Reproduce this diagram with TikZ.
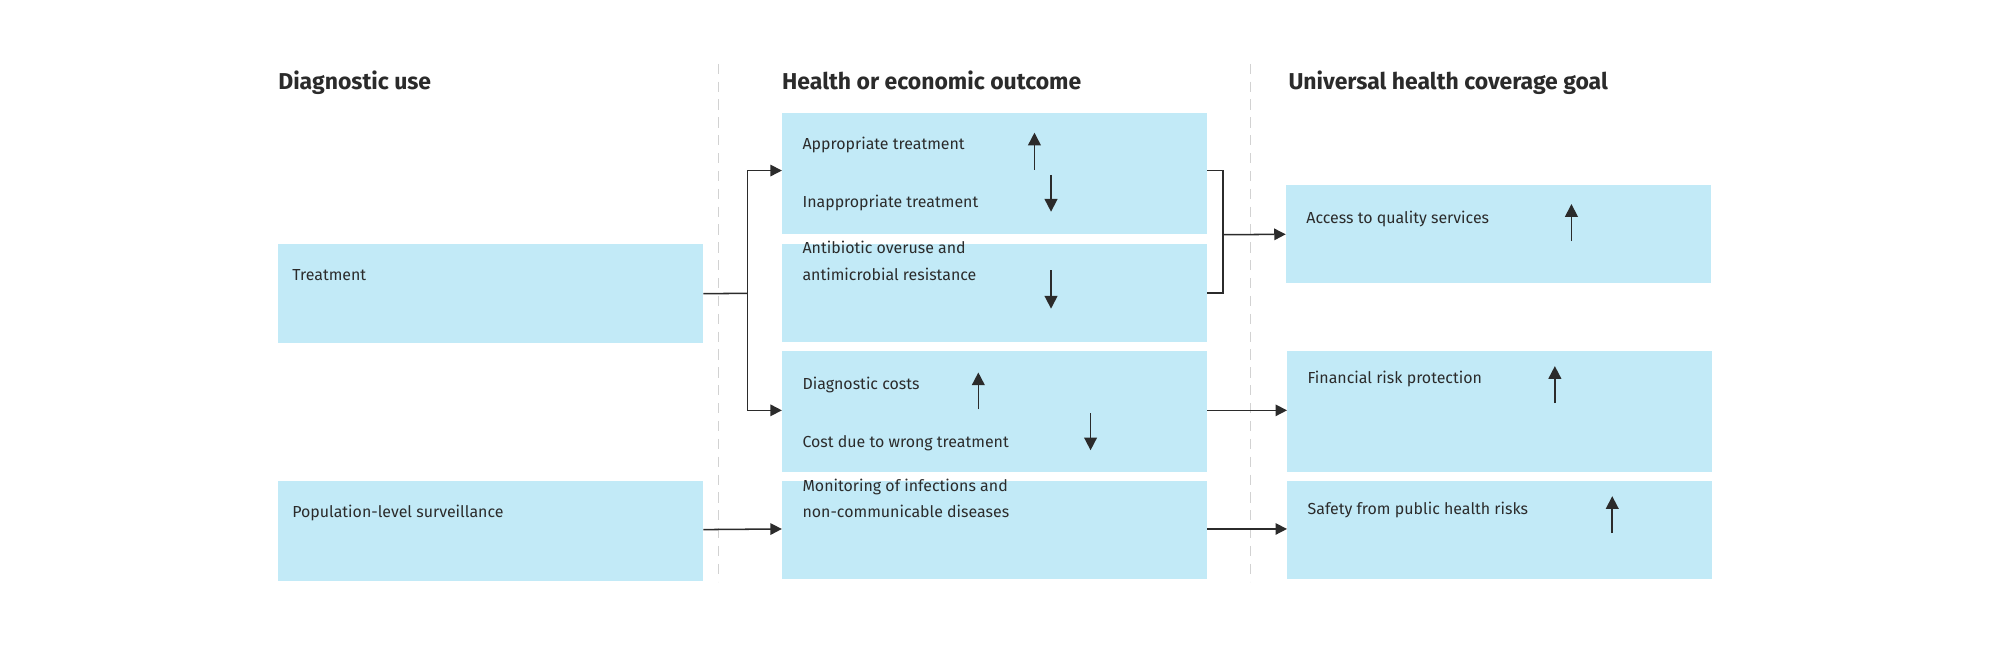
\documentclass[tikz,border=0pt]{standalone}
\usepackage{fontspec}
\setmainfont{Fira Sans}
\usetikzlibrary{arrows.meta,calc}
\definecolor{boxc}{HTML}{C2EAF7}
\definecolor{ink}{HTML}{2B2B2B}
\tikzset{
  box/.style={fill=boxc,draw=none,anchor=north west,inner sep=0pt},
  lbl/.style={anchor=base west,inner sep=0pt,text=ink,font=\fontsize{12.5}{21}\selectfont,align=left},
  hd/.style={anchor=base west,inner sep=0pt,text=ink,font=\fontsize{18}{20}\selectfont\bfseries},
  conn/.style={draw=ink,line width=1.2pt,-{Triangle[length=9pt,width=9pt]}},
  plain/.style={draw=ink,line width=1.2pt},
  updn/.style={draw=ink,line width=1.3pt,-{Triangle[length=10pt,width=10pt]}},
  sep/.style={draw=gray!35,line width=0.8pt,dash pattern=on 8pt off 6pt}
}
\begin{document}
\begin{tikzpicture}[x=1pt,y=-1pt]
\useasboundingbox (0,0) rectangle (1568,507);
\fill[white] (0,0) rectangle (1568,507);
\draw[sep] (563,50) -- (563,456);
\draw[sep] (980,50) -- (980,456);
\node[hd] (h1) at (218,70) {Diagnostic use};
\node[hd] (h2) at (613,70) {Health or economic outcome};
\node[hd] (h3) at (1010,70) {Universal health coverage goal};
% boxes
\node[box,minimum width=333pt,minimum height=78pt] (tr) at (218,191) {};
\node[box,minimum width=333pt,minimum height=78pt] (po) at (218,377) {};
\node[box,minimum width=333pt,minimum height=95pt] (m1) at (613,88) {};
\node[box,minimum width=333pt,minimum height=77pt] (m2) at (613,191) {};
\node[box,minimum width=333pt,minimum height=95pt] (m3) at (613,275) {};
\node[box,minimum width=333pt,minimum height=77pt] (m4) at (613,377) {};
\node[box,minimum width=333pt,minimum height=77pt] (r1) at (1008,145) {};
\node[box,minimum width=333pt,minimum height=95pt] (r2) at (1009,275) {};
\node[box,minimum width=333pt,minimum height=77pt] (r3) at (1009,377) {};
% labels
\node[lbl] (t1) at (229,220) {Treatment};
\node[lbl] (t2) at (229,406) {Population-level surveillance};
\node[lbl] (t3) at (629,117) {Appropriate treatment};
\node[lbl] (t4) at (629,163) {Inappropriate treatment};
\node[lbl] (t5) at (629,220) {Antibiotic overuse and\\antimicrobial resistance};
\node[lbl] (t6) at (629,305) {Diagnostic costs};
\node[lbl] (t7) at (629,351) {Cost due to wrong treatment};
\node[lbl] (t8) at (629,406) {Monitoring of infections and\\non-communicable diseases};
\node[lbl] (t9) at (1024,175) {Access to quality services};
\node[lbl] (t10) at (1025,301) {Financial risk protection};
\node[lbl] (t11) at (1025,403) {Safety from public health risks};
% small up/down arrows
\coordinate (a1) at (811,133); \draw[updn] (a1) -- ++(0,-29);
\coordinate (a2) at (824,137); \draw[updn] (a2) -- ++(0,29);
\coordinate (a3) at (824,212); \draw[updn] (a3) -- ++(0,30);
\coordinate (a4) at (767,321); \draw[updn] (a4) -- ++(0,-29);
\coordinate (a5) at (855,324); \draw[updn] (a5) -- ++(0,29);
\coordinate (a6) at (1232,189); \draw[updn] (a6) -- ++(0,-29);
\coordinate (a7) at (1219,316); \draw[updn] (a7) -- ++(0,-29);
\coordinate (a8) at (1264,418); \draw[updn] (a8) -- ++(0,-29);
% connectors
\coordinate (sp) at (586,230);
\draw[plain] (tr.east) -- (sp);
\draw[conn] (sp) |- ($(m1.west)+(0,-2)$);
\draw[conn] (sp) |- ($(m3.west)+(0,-1)$);
\coordinate (br) at (959,184);
\draw[plain] ($(m1.east)+(0,-2)$) -| (br);
\draw[plain] (m2.east) -| (br);
\draw[conn] (br) -- (r1.west);
\draw[conn] ($(m3.east)+(0,-1)$) -- ($(r2.west)+(0,-1)$);
\draw[conn] ($(po.east)+(0,-1)$) -- ($(m4.west)+(0,-1)$);
\draw[conn] ($(m4.east)+(0,-1)$) -- ($(r3.west)+(0,-1)$);
\end{tikzpicture}
\end{document}
